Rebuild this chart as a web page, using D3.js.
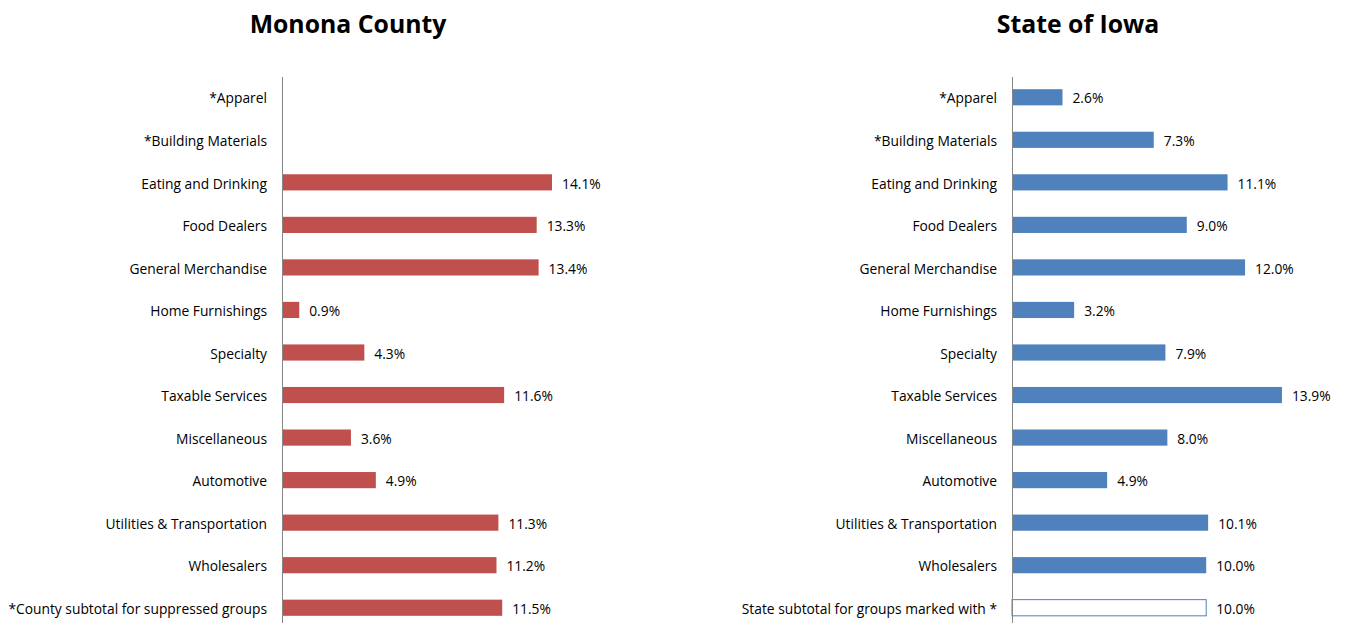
<!DOCTYPE html>
<html>
<head>
<meta charset="utf-8">
<script src="https://cdn.jsdelivr.net/npm/d3@7"></script>
<style>
  body { margin: 0; background: #fff; }
  svg text { font-family: "Open Sans", sans-serif; fill: #000; }
</style>
</head>
<body>
<div id="chart"></div>
<script>
// categories, top to bottom
var categories = ["*Apparel", "*Building Materials", "Eating and Drinking", "Food Dealers",
  "General Merchandise", "Home Furnishings", "Specialty", "Taxable Services",
  "Miscellaneous", "Automotive", "Utilities & Transportation", "Wholesalers", "subtotal"];

// county values (suppressed groups have no bar)
var countyValues = [null, null, 14.1, 13.3, 13.4, 0.9, 4.3, 11.6, 3.6, 4.9, 11.3, 11.2, 11.5];
var stateValues = [2.6, 7.3, 11.1, 9.0, 12.0, 3.2, 7.9, 13.9, 8.0, 4.9, 10.1, 10.0, 10.0];

var countyLastLabel = "*County subtotal for suppressed groups";
var stateLastLabel = "State subtotal for groups marked with *";

var W = 1345, H = 623;
var svg = d3.select("#chart").append("svg").attr("width", W).attr("height", H);

function panel(opt) {
  var g = svg.append("g");

  var x = d3.scaleLinear().domain([0, 16]).range([opt.x0, opt.x0 + opt.pxPer * 16]);
  var y = d3.scaleBand().domain(categories).range([76, 629])
    .paddingInner(0.62).paddingOuter(0.31);

  g.append("text")
    .attr("x", opt.titleX).attr("y", 33)
    .attr("text-anchor", "middle")
    .style("font-weight", "bold").style("font-size", "24.8px")
    .text(opt.title);

  var rows = categories.map(function (c, i) { return { cat: c, v: opt.values[i], i: i }; });

  // category labels
  g.selectAll("text.cat").data(rows).enter().append("text")
    .attr("class", "cat")
    .attr("x", opt.x0 - 15)
    .attr("y", function (d) { return y(d.cat) + y.bandwidth() / 2; })
    .attr("dy", "0.45em")
    .attr("text-anchor", "end")
    .style("font-size", "13.8px")
    .text(function (d) { return d.i === categories.length - 1 ? opt.lastLabel : d.cat; });

  var barRows = rows.filter(function (d) { return d.v != null; });

  g.selectAll("rect.bar").data(barRows).enter().append("rect")
    .attr("class", "bar")
    .attr("x", x(0))
    .attr("y", function (d) { return y(d.cat); })
    .attr("height", y.bandwidth())
    .attr("width", function (d) { return x(d.v) - x(0); })
    .attr("fill", function (d) { return (opt.hollowLast && d.i === categories.length - 1) ? "#fff" : opt.color; })
    .attr("stroke", function (d) { return (opt.hollowLast && d.i === categories.length - 1) ? opt.color : "none"; })
    .attr("stroke-width", 1);

  g.selectAll("text.val").data(barRows).enter().append("text")
    .attr("class", "val")
    .attr("x", function (d) { return x(d.v) + 10; })
    .attr("y", function (d) { return y(d.cat) + y.bandwidth() / 2; })
    .attr("dy", "0.45em")
    .style("font-size", "13.8px")
    .text(function (d) { return d.v.toFixed(1) + "%"; });

  // vertical axis line
  g.append("line")
    .attr("x1", opt.x0 + 0.5).attr("x2", opt.x0 + 0.5)
    .attr("y1", 77).attr("y2", H)
    .attr("stroke", "#868686").attr("stroke-width", 1);
}

panel({ title: "Monona County", titleX: 348, x0: 282, pxPer: 19.15,
  values: countyValues, color: "#C0504D", lastLabel: countyLastLabel, hollowLast: false });
panel({ title: "State of Iowa", titleX: 1078, x0: 1012, pxPer: 19.42,
  values: stateValues, color: "#4F81BD", lastLabel: stateLastLabel, hollowLast: true });
</script>
</body>
</html>
